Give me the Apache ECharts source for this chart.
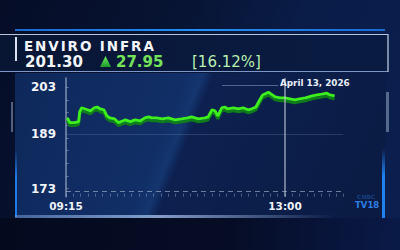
<!DOCTYPE html>
<html>
<head>
<meta charset="utf-8">
<script src="https://cdn.jsdelivr.net/npm/echarts@6/dist/echarts.min.js"></script>
<style>
html,body{margin:0;padding:0;width:400px;height:250px;overflow:hidden;background:#050c24;font-family:"DejaVu Sans",sans-serif;}
.abs{position:absolute;}
#bg{left:0;top:0;width:400px;height:250px;background:linear-gradient(112deg,#050d27 0%,#071433 38%,#0a1c48 62%,#0b2050 100%);}
#bottomdark{left:0;top:218px;width:400px;height:32px;background:linear-gradient(100deg,#040a1e 0%,#050c24 55%,#0a1a48 100%);}
#panel{left:15px;top:73px;width:370px;height:145px;background:linear-gradient(112deg,#0e285a 0%,#112e66 40%,#14356f 44%,#0d2150 46.5%,#0a1a42 100%);}
#titlebox{left:0;top:34px;width:388px;height:38px;background:linear-gradient(90deg,#081634 0%,#0a1a3e 60%,#0a1b42 100%);border-top:1.5px solid #b6c4dc;border-bottom:1.5px solid #7d98c6;box-sizing:border-box;}
#titleright{left:387px;top:34px;width:1.5px;height:38px;background:rgba(170,185,210,0.7);}
#bluebar{left:15px;top:29px;width:370px;height:2px;background:linear-gradient(90deg,#1a6ad0,#2490f5 50%,#1a6ad0);}
#leftwhite{left:15px;top:37px;width:1.5px;height:24px;background:#d8e0ee;}
#leftgrey{left:11px;top:102px;width:2px;height:30px;background:rgba(150,165,195,0.55);}
#rightgrey{left:386px;top:92px;width:2.5px;height:40px;background:rgba(150,165,195,0.55);}
#leftblue{left:15px;top:150px;width:2px;height:67px;background:linear-gradient(180deg,rgba(30,120,230,0),#1f7ae6 40%);}
#rightblue{left:382px;top:148px;width:2.5px;height:70px;background:linear-gradient(180deg,rgba(30,120,230,0),#2080ee 40%);}
#glow{left:15px;top:215px;width:320px;height:3px;background:linear-gradient(90deg,rgba(120,160,220,0.5),rgba(170,200,240,0.75) 45%,rgba(120,160,220,0));}
.hdr{position:absolute;white-space:nowrap;font-family:"DejaVu Sans",sans-serif;}
#name{left:24px;top:40.3px;font-size:13.5px;line-height:13.5px;font-weight:bold;letter-spacing:1.9px;color:#f2f5fa;}
#price{left:25px;top:55px;font-size:15px;line-height:15px;font-weight:bold;color:#f2f5fa;}
#tri{left:100px;top:56px;width:11px;height:11px;clip-path:polygon(50% 0,100% 100%,0 100%);background:linear-gradient(180deg,#6ef05a,#1c9a2c);}
#chg{left:116px;top:55px;font-size:15px;line-height:15px;font-weight:bold;color:#74e25a;}
#pct{left:192px;top:55px;font-size:15px;line-height:15px;color:#b8f0b0;}
#dateline{left:222px;top:85px;width:56px;height:1px;background:rgba(170,185,215,0.45);}
#date{left:280px;top:79px;font-size:8.8px;line-height:9px;font-weight:bold;color:#e8eef8;}
#cnbc{left:357px;top:194px;font-size:6px;line-height:6px;font-weight:bold;color:rgba(40,110,210,0.45);}
#tv18{left:355px;top:201px;font-size:8.5px;line-height:9px;font-weight:bold;color:#2a80e8;}
#chart{left:0;top:0;width:400px;height:250px;}
</style>
</head>
<body>
<div id="bg" class="abs"></div>
<div id="bottomdark" class="abs"></div>
<div id="panel" class="abs"></div>
<div id="titlebox" class="abs"></div>
<div id="titleright" class="abs"></div>
<div id="bluebar" class="abs"></div>
<div id="leftwhite" class="abs"></div>
<div id="leftgrey" class="abs"></div>
<div id="rightgrey" class="abs"></div>
<div id="leftblue" class="abs"></div>
<div id="rightblue" class="abs"></div>
<div id="glow" class="abs"></div>
<div id="dateline" class="abs"></div>
<div id="chart" class="abs"></div>
<div id="name" class="hdr">ENVIRO INFRA</div>
<div id="price" class="hdr">201.30</div>
<div id="tri" class="abs"></div>
<div id="chg" class="hdr">27.95</div>
<div id="pct" class="hdr">[16.12%]</div>
<div id="date" class="hdr">April 13, 2026</div>
<div id="cnbc" class="hdr">CNBC</div>
<div id="tv18" class="hdr">TV18</div>
<script>
// ---- data ----
const times = ['09:16','09:17','09:19','09:24','09:28','09:29','09:31','09:37','09:40','09:44',
  '09:47','09:50','09:54','09:57','10:00','10:05','10:09','10:13','10:16','10:21',
  '10:26','10:31','10:36','10:40','10:43','10:48','10:54','11:00','11:07','11:14',
  '11:20','11:24','11:31','11:38','11:41','11:45','11:48','11:51','11:55','11:58',
  '12:01','12:07','12:12','12:17','12:22','12:26','12:30','12:34','12:37','12:43',
  '12:47','12:50','12:55','13:00','13:05','13:10','13:15','13:21','13:28','13:33',
  '13:38','13:43','13:46','13:51'];
const prices = [193.9,193.6,192.5,192.5,192.8,195.7,196.9,196.3,196.0,196.9,
  197.1,196.6,196.3,194.5,193.9,193.6,192.5,193.0,193.3,192.8,
  193.3,193.0,193.9,194.2,193.9,193.9,193.6,193.9,193.3,193.6,
  193.9,194.2,193.6,193.9,194.2,196.3,196.0,194.5,196.9,197.1,
  196.6,196.9,196.6,196.9,196.3,196.6,197.1,199.2,200.7,201.5,
  200.7,200.1,199.8,199.8,199.5,199.2,199.5,199.8,200.4,200.7,
  200.9,201.2,200.7,200.4];
const yTickLabels = [173, 189, 203];
const xTickLabels = ['09:15', '13:00'];
const markerTime = '13:00';
const dashedLevel = 172.35;
const gridLevel = 189;

// ---- helpers ----
const OPEN = 9 * 60 + 15;
const toMin = t => { const p = t.split(':').map(Number); return p[0] * 60 + p[1] - OPEN; };
const fromMin = m => { const a = OPEN + Math.round(m); const h = Math.floor(a / 60), mm = a % 60; return (h < 10 ? '0' : '') + h + ':' + (mm < 10 ? '0' : '') + mm; };
const xMinor = []; for (let v = 0; v <= 285; v += 7.5) xMinor.push(v);
const yMinor = [173, 176.75, 180.5, 184.25, 188, 191.75, 195.5, 199.25, 203];

const chart = echarts.init(document.getElementById('chart'), null, { renderer: 'svg' });
chart.setOption({
  backgroundColor: 'transparent',
  animation: false,
  grid: { left: 66, right: 56.6, top: 78, bottom: 53.3 },
  xAxis: {
    type: 'value', min: 0, max: 285,
    axisLine: { show: true, lineStyle: { width: 1.5, color: new echarts.graphic.LinearGradient(0, 0, 1, 0, [
      { offset: 0, color: 'rgba(225,232,245,0.85)' },
      { offset: 0.6, color: 'rgba(225,232,245,0.75)' },
      { offset: 0.88, color: 'rgba(200,212,235,0.15)' },
      { offset: 1, color: 'rgba(200,212,235,0.05)' }]) } },
    axisTick: { show: true, inside: true, length: 3, customValues: xMinor, lineStyle: { color: 'rgba(200,212,235,0.35)' } },
    axisLabel: { customValues: xTickLabels.map(toMin), formatter: v => fromMin(v), color: '#eef2f8', fontFamily: 'DejaVu Sans', fontWeight: 'bold', fontSize: 10.5, margin: 4 },
    splitLine: { show: false }
  },
  yAxis: {
    type: 'value', min: 170.6, max: 205.7,
    axisLine: { show: true, lineStyle: { color: 'rgba(200,210,232,0.6)', width: 1.5 } },
    axisTick: { show: true, inside: true, length: 3, customValues: yMinor, lineStyle: { color: 'rgba(200,212,235,0.35)' } },
    axisLabel: { customValues: yTickLabels, color: '#f2f5fa', fontFamily: 'DejaVu Sans', fontWeight: 'bold', fontSize: 12, margin: 10 },
    splitLine: { show: false }
  },
  series: [{
    type: 'line',
    data: times.map((t, i) => [toMin(t), prices[i]]),
    showSymbol: false,
    lineStyle: { color: '#3cf01e', width: 2.8, shadowColor: 'rgba(14,130,24,0.95)', shadowOffsetY: 3, shadowBlur: 0 },
    markLine: {
      silent: true, symbol: 'none', label: { show: false },
      data: [
        { xAxis: toMin(markerTime), lineStyle: { color: 'rgba(200,205,220,0.7)', width: 1.5, type: 'solid' } },
        { yAxis: dashedLevel, lineStyle: { color: 'rgba(175,188,212,0.6)', width: 1, type: [5, 4] } },
        { yAxis: gridLevel, lineStyle: { color: 'rgba(150,170,210,0.22)', width: 1, type: 'solid' } }
      ]
    }
  }]
});
</script>
</body>
</html>
